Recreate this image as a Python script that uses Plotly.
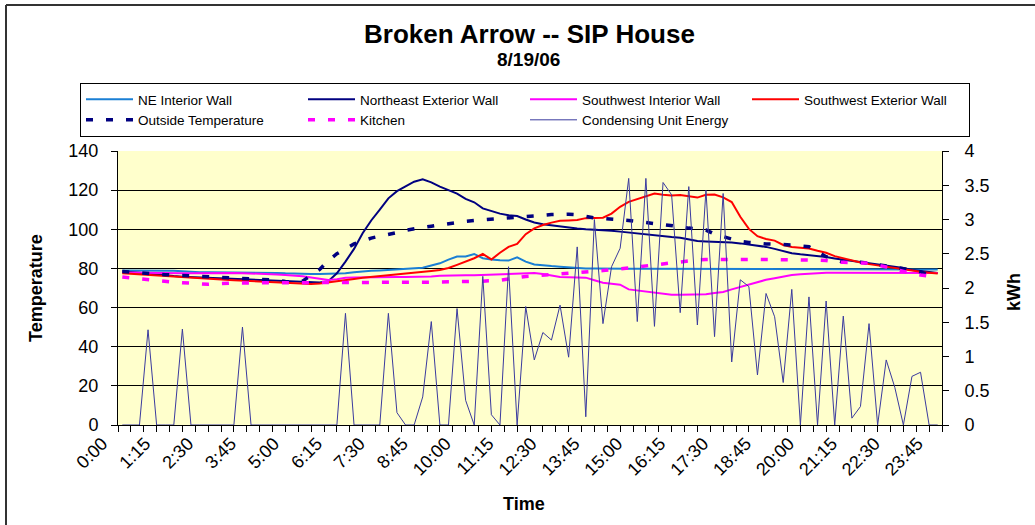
import plotly.graph_objects as go

# ---------------- data ----------------
times = [f"{m // 60}:{m % 60:02d}" for m in range(0, 24 * 60, 15)]
tick_labels = ["0:00", "1:15", "2:30", "3:45", "5:00", "6:15", "7:30", "8:45", "10:00", "11:15",
               "12:30", "13:45", "15:00", "16:15", "17:30", "18:45", "20:00", "21:15", "22:30", "23:45"]

ne_interior = [79.0, 79.0, 79.0, 79.0, 78.9, 78.9, 78.8, 78.5, 78.2, 78.0,
               78.0, 78.0, 78.0, 78.0, 78.0, 77.8, 77.8, 77.8, 77.7, 77.5,
               77.3, 77.2, 77.2, 77.2, 77.2, 77.3, 77.5, 78.0, 78.5, 78.8,
               79.0, 79.2, 79.5, 79.8, 80.0, 80.4, 81.5, 82.6, 84.5, 86.1,
               86.1, 87.4, 85.2, 84.5, 84.2, 84.0, 85.7, 83.5, 82.0, 81.5,
               81.2, 80.9, 80.5, 80.2, 80.0, 79.9, 79.8, 79.8, 79.8, 79.8,
               79.8, 79.8, 79.8, 79.8, 79.8, 79.7, 79.7, 79.7, 79.7, 79.7,
               79.7, 79.7, 79.7, 79.7, 79.7, 79.7, 79.7, 79.7, 79.7, 79.7,
               79.7, 79.7, 79.7, 79.7, 79.7, 79.6, 79.6, 79.6, 79.6, 79.6,
               79.6, 79.5, 79.5, 79.5, 79.4, 79.4]

ne_exterior = [78.4, 78.2, 77.8, 77.3, 76.8, 76.4, 76.1, 75.8, 75.6, 75.4,
               75.2, 75.1, 75.0, 74.8, 74.6, 74.4, 74.1, 73.9, 73.6, 73.4,
               73.3, 73.1, 72.9, 72.8, 73.5, 77.5, 83.5, 90.0, 98.0, 104.5,
               110.0, 115.8, 119.5, 122.0, 124.3, 125.5, 124.0, 121.8, 120.0, 118.2,
               115.5, 113.8, 110.7, 109.4, 108.0, 107.2, 106.8, 105.0, 103.5, 102.6,
               102.0, 101.7, 101.0, 100.4, 100.0, 99.8, 99.5, 99.3, 98.8, 98.3,
               97.8, 97.4, 97.0, 96.5, 96.0, 95.7, 95.0, 94.0, 93.8, 93.7,
               93.6, 93.2, 92.8, 92.3, 91.8, 91.0, 90.0, 88.8, 87.8, 87.2,
               86.8, 86.4, 85.8, 85.1, 84.5, 83.8, 83.0, 82.5, 82.0, 81.4,
               80.8, 80.2, 79.2, 78.6, 78.2, 77.7]

sw_interior = [77.9, 77.8, 77.7, 77.6, 77.6, 77.5, 77.5, 77.5, 77.5, 77.6,
               77.7, 77.8, 77.8, 77.7, 77.6, 77.5, 77.3, 77.1, 76.9, 76.7,
               76.4, 76.0, 75.4, 74.8, 74.1, 74.5, 75.2, 75.4, 75.5, 75.6,
               75.6, 75.6, 75.6, 75.6, 75.6, 75.7, 75.9, 76.2, 76.4, 76.5,
               76.5, 76.5, 76.7, 77.0, 77.1, 77.3, 77.4, 77.6, 77.7, 77.2,
               76.3, 75.6, 75.5, 75.4, 75.3, 74.0, 72.7, 72.2, 71.7, 69.3,
               68.8, 68.0, 67.5, 67.0, 66.6, 66.6, 66.6, 66.6, 66.8, 67.4,
               68.0, 69.3, 70.6, 72.0, 73.1, 74.2, 75.0, 75.8, 76.6, 77.0,
               77.3, 77.6, 77.8, 77.8, 77.8, 77.8, 77.8, 77.8, 77.8, 77.8,
               77.8, 77.8, 77.8, 77.8, 77.7, 77.7]

sw_exterior = [77.5, 77.2, 76.9, 76.6, 76.3, 76.0, 75.7, 75.4, 75.1, 74.9,
               74.6, 74.4, 74.2, 74.0, 73.8, 73.7, 73.5, 73.3, 73.1, 73.0,
               72.8, 72.3, 72.1, 72.3, 72.8, 73.4, 74.1, 74.6, 75.2, 75.6,
               76.1, 76.7, 77.1, 77.5, 77.9, 78.3, 78.7, 79.2, 80.2, 81.8,
               83.5, 85.2, 87.4, 84.6, 88.0, 91.0, 92.5, 97.5, 100.5, 102.2,
               103.4, 104.3, 104.5, 104.7, 105.7, 105.9, 105.9, 108.0, 111.5, 114.0,
               115.5, 117.0, 118.3, 117.6, 117.3, 117.5, 117.0, 116.2, 117.6, 117.8,
               116.3, 113.9, 106.4, 100.2, 96.5, 95.0, 94.2, 92.0, 91.0, 90.6,
               90.2, 89.0, 88.0, 86.3, 85.2, 84.0, 83.0, 82.2, 81.5, 80.8,
               80.1, 79.5, 78.8, 78.3, 77.8, 77.4]

outside_temp = [78.4, 78.0, 77.7, 77.3, 77.0, 76.8, 76.6, 76.4, 76.2, 76.0,
                75.8, 75.6, 75.5, 75.3, 75.1, 75.0, 74.8, 74.6, 74.0, 73.3,
                72.8, 73.5, 76.5, 79.5, 84.0, 87.5, 90.0, 92.5, 94.0, 95.5,
                96.5, 97.2, 98.3, 99.5, 100.4, 101.0, 101.6, 102.3, 103.0, 103.7,
                104.1, 104.5, 104.8, 105.0, 105.2, 105.6, 106.0, 106.4, 106.8, 107.1,
                107.5, 107.8, 107.7, 107.4, 106.5, 105.8, 105.5, 105.3, 105.0, 104.5,
                104.0, 103.5, 103.0, 102.6, 102.0, 101.3, 100.6, 100.0, 99.6, 97.5,
                96.2, 95.0, 93.8, 93.3, 92.8, 92.5, 92.4, 92.3, 92.0, 91.5,
                91.1, 88.5, 86.0, 84.5, 83.2, 83.1, 83.1, 82.6, 82.0, 81.4,
                80.6, 79.8, 79.2, 78.2, 76.8, 76.2]

kitchen = [75.6, 75.1, 74.6, 74.2, 73.8, 73.4, 73.0, 72.7, 72.5, 72.2,
           71.9, 72.2, 72.5, 72.6, 72.6, 72.6, 72.6, 72.6, 72.7, 72.7,
           72.7, 72.7, 72.7, 72.7, 72.8, 72.9, 73.0, 73.0, 72.9, 72.8,
           72.7, 72.6, 72.6, 72.7, 72.8, 72.9, 73.0, 73.1, 73.1, 73.1,
           73.2, 73.3, 73.5, 73.7, 73.9, 74.6, 75.4, 75.9, 76.2, 76.5,
           76.9, 77.2, 77.4, 77.6, 77.9, 78.4, 78.9, 79.3, 79.8, 80.3,
           80.7, 81.1, 81.7, 82.3, 82.9, 83.5, 84.0, 84.3, 84.5, 84.6,
           84.7, 84.7, 84.7, 84.6, 84.6, 84.6, 84.5, 84.5, 84.5, 84.4,
           84.3, 84.2, 84.0, 83.3, 83.1, 83.1, 83.1, 82.7, 81.8, 80.6,
           79.6, 78.5, 77.4, 76.6, 75.9, 75.4]

energy_kwh = [0, 0, 0, 1.39, 0, 0, 0, 1.40, 0, 0,
              0, 0, 0, 0, 1.43, 0, 0, 0, 0, 0,
              0, 0, 0, 0, 0, 0, 1.63, 0, 0, 0,
              0, 1.63, 0.18, 0, 0, 0.41, 1.51, 0, 0, 1.70,
              0.36, 0, 2.17, 0.15, 0, 2.31, 0, 1.73, 0.95, 1.35,
              1.24, 1.75, 0.99, 2.60, 0.12, 3.00, 1.48, 2.31, 2.58, 3.60,
              1.51, 3.60, 1.44, 3.54, 3.36, 1.64, 3.48, 1.46, 3.43, 1.29,
              3.38, 0.92, 2.12, 2.02, 0.73, 1.92, 1.58, 0.62, 1.98, 0,
              1.87, 0, 1.81, 0, 1.59, 0.10, 0.27, 1.48, 0, 0.95,
              0.55, 0, 0.71, 0.77, 0, 0]

# ---------------- figure ----------------
FONT = "Liberation Sans, Arial, sans-serif"
x = list(range(len(times)))
tickvals = [times.index(t) for t in tick_labels]

fig = go.Figure()


def add(name, y, color, width, dash="solid", yaxis="y"):
    fig.add_trace(go.Scatter(x=x, y=y, name=name, mode="lines", yaxis=yaxis,
                             line=dict(color=color, width=width, dash=dash)))


add("NE Interior Wall", ne_interior, "#1A7FD4", 2)
add("Northeast Exterior Wall", ne_exterior, "#000080", 2)
add("Southwest Interior Wall", sw_interior, "#FF00FF", 2)
add("Southwest Exterior Wall", sw_exterior, "#FF0000", 2)
add("Outside Temperature", outside_temp, "#000080", 3.5, dash="7px,13px")
add("Kitchen", kitchen, "#FF00FF", 3.5, dash="7px,13px")
add("Condensing Unit Energy", energy_kwh, "#3A3A9E", 1, yaxis="y2")

W, H = 1035, 525
L, R, T, B = 118, 93, 151, 100
pw, ph = W - L - R, H - T - B


def px(xp):
    return (xp - L) / pw


def py(yp):
    return (H - B - yp) / ph


fig.update_layout(
    width=W, height=H,
    margin=dict(l=L, r=R, t=T, b=B, autoexpand=False),
    paper_bgcolor="white",
    plot_bgcolor="#FFFFCC",
    font=dict(family=FONT, color="black"),
    showlegend=True,
    legend=dict(orientation="h", x=px(80), y=py(83), xanchor="left", yanchor="top",
                bordercolor="black", borderwidth=1, bgcolor="white",
                font=dict(size=13.5, family=FONT), entrywidth=160, entrywidthmode="pixels",
                tracegroupgap=0, itemwidth=47),
    xaxis=dict(range=[-0.5, 95.5], tickmode="array", tickvals=tickvals, ticktext=tick_labels,
               tickangle=-45, ticks="", tickfont=dict(size=18, family=FONT),
               ticklabelshift=-20,
               showgrid=False, zeroline=False, showline=True, linecolor="black", linewidth=1,
               minor=dict(tick0=-0.4999, dtick=1.5, ticks="outside", ticklen=6,
                          tickcolor="black", tickwidth=1, showgrid=False)),
    yaxis=dict(range=[0, 140], dtick=20, tick0=0, ticks="outside", ticklen=6, tickcolor="black",
               tickfont=dict(size=18, family=FONT), showgrid=True, gridcolor="#000000",
               gridwidth=1, zeroline=False, showline=True, linecolor="black", linewidth=1,
               ticklabelstandoff=9),
    yaxis2=dict(range=[0, 4], dtick=0.5, tick0=0, overlaying="y", side="right",
                ticks="outside", ticklen=6, tickcolor="black",
                tickfont=dict(size=18, family=FONT), showgrid=False, zeroline=False,
                showline=True, linecolor="black", linewidth=1, ticklabelstandoff=12),
    annotations=[
        dict(text="<b>Broken Arrow -- SIP House</b>", x=px(529), y=py(34), xref="paper",
             yref="paper", showarrow=False, font=dict(size=26, family=FONT), xanchor="center",
             yanchor="middle"),
        dict(text="<b>8/19/06</b>", x=px(528), y=py(60), xref="paper", yref="paper",
             showarrow=False, font=dict(size=19, family=FONT), xanchor="center",
             yanchor="middle"),
        dict(text="<b>Temperature</b>", x=px(36), y=py(288), xref="paper", yref="paper",
             showarrow=False, textangle=-90, font=dict(size=18, family=FONT),
             xanchor="center", yanchor="middle"),
        dict(text="<b>kWh</b>", x=px(1014), y=py(292), xref="paper", yref="paper",
             showarrow=False, textangle=-90, font=dict(size=18, family=FONT),
             xanchor="center", yanchor="middle"),
        dict(text="<b>Time</b>", x=px(524), y=py(504), xref="paper", yref="paper",
             showarrow=False, font=dict(size=18, family=FONT), xanchor="center",
             yanchor="middle"),
    ],
    shapes=[
        dict(type="line", xref="paper", yref="paper", x0=px(6), x1=px(1040), y0=py(5), y1=py(5),
             line=dict(color="#333333", width=2)),
        dict(type="line", xref="paper", yref="paper", x0=px(6), x1=px(6), y0=py(5), y1=py(540),
             line=dict(color="#333333", width=2)),
    ],
)

fig.write_html("out.html",
               config={"displayModeBar": False},
               post_script="document.body.style.margin='0px';"
                           "document.documentElement.style.overflow='hidden';")
